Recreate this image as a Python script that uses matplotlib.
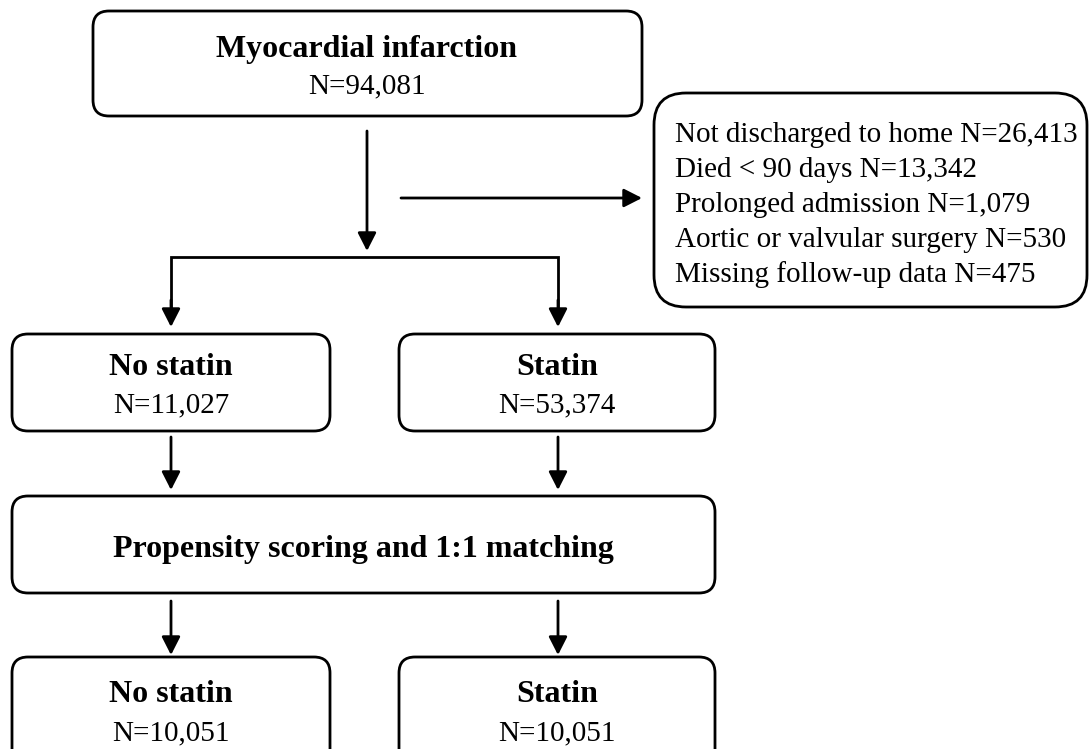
import matplotlib.pyplot as plt
from matplotlib.patches import FancyBboxPatch

# flowchart content
top_label = "Myocardial infarction"
top_n = 94081
excl_labels = ["Not discharged to home", "Died < 90 days", "Prolonged admission",
               "Aortic or valvular surgery", "Missing follow-up data"]
excl_n = [26413, 13342, 1079, 530, 475]
groups = ["No statin", "Statin"]
before_n = [11027, 53374]
match_label = "Propensity scoring and 1:1 matching"
after_n = [10051, 10051]

plt.rcParams['font.family'] = ['Liberation Serif', 'DejaVu Serif']

fig = plt.figure(figsize=(10.92, 7.49), dpi=100)
ax = fig.add_axes([0, 0, 1, 1])
ax.set_xlim(0, 1092)
ax.set_ylim(749, 0)
ax.axis('off')

LW = 2.0
BOLD = 23
REG = 21


def box(x0, y0, x1, y1, r=16):
    p = FancyBboxPatch((x0, y0), x1 - x0, y1 - y0,
                       boxstyle=f"round,pad=0,rounding_size={r}",
                       lw=LW, ec='black', fc='white', zorder=2)
    ax.add_patch(p)


def arrow(x0, y0, x1, y1):
    ax.annotate('', xy=(x1, y1), xytext=(x0, y0),
                arrowprops=dict(arrowstyle='-|>,head_length=0.55,head_width=0.28',
                                mutation_scale=20, lw=LW, color='black',
                                shrinkA=0, shrinkB=0), zorder=3)


# top box
box(93, 11, 642, 116)
ax.text(367, 57, top_label, ha='center', va='baseline', fontsize=BOLD, fontweight='bold')
ax.text(367, 93, f"N={top_n:,}", ha='center', va='baseline', fontsize=REG)

# exclusion box
box(654, 93, 1087, 307, r=32)
for i, (lab, n) in enumerate(zip(excl_labels, excl_n)):
    ax.text(675, 142 + 35 * i, f"{lab} N={n:,}", ha='left', va='baseline', fontsize=REG)

# arrows from top
arrow(367, 131, 367, 251)
arrow(401, 198, 642, 198)

# split
cx = [171, 558]
ax.plot([cx[0], cx[0], cx[1], cx[1]], [312, 257, 257, 312], color='black', lw=LW,
        solid_joinstyle='miter', solid_capstyle='butt')
for x in cx:
    arrow(x, 300, x, 327)

# group boxes before matching
bx = [(12, 330), (399, 715)]
for (x0, x1), g, n in zip(bx, groups, before_n):
    box(x0, 334, x1, 431)
    xc = (x0 + x1) / 2
    ax.text(xc, 375, g, ha='center', va='baseline', fontsize=BOLD, fontweight='bold')
    ax.text(xc, 412, f"N={n:,}", ha='center', va='baseline', fontsize=REG)
    arrow(cx[bx.index((x0, x1))], 437, cx[bx.index((x0, x1))], 490)

# matching box
box(12, 496, 715, 593)
ax.text(363, 557, match_label, ha='center', va='baseline', fontsize=BOLD, fontweight='bold')

# matched groups
for (x0, x1), g, n, x in zip(bx, groups, after_n, cx):
    arrow(x, 601, x, 655)
    box(x0, 657, x1, 775)
    xc = (x0 + x1) / 2
    ax.text(xc, 702, g, ha='center', va='baseline', fontsize=BOLD, fontweight='bold')
    ax.text(xc, 740, f"N={n:,}", ha='center', va='baseline', fontsize=REG)

fig.savefig('out.png', dpi=100)
